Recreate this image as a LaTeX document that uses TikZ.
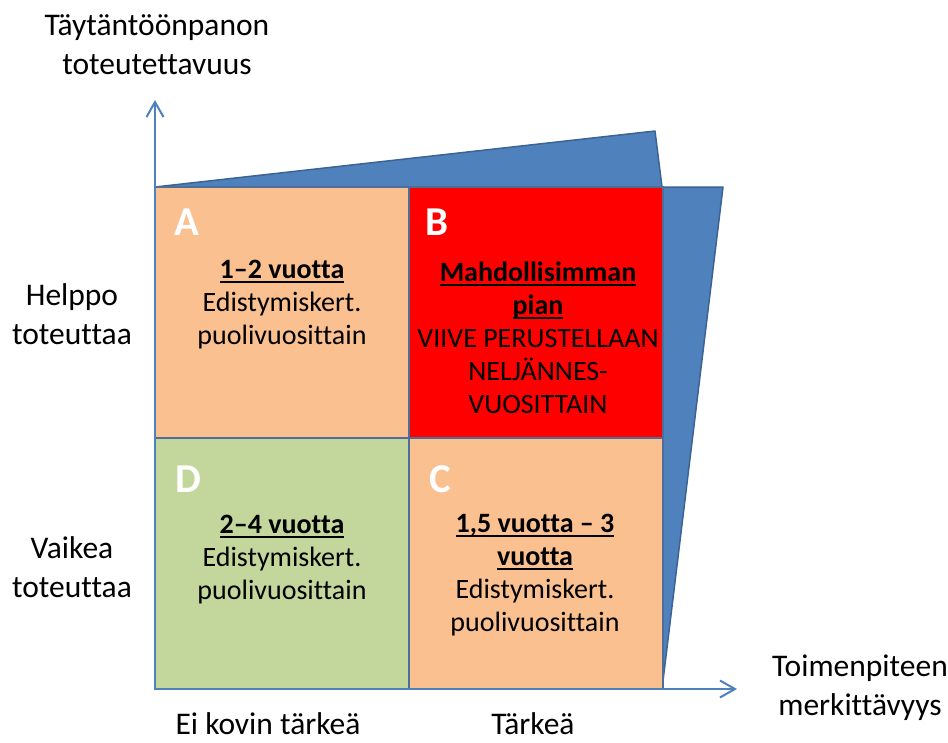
\documentclass[tikz,border=0pt]{standalone}
\usepackage{fontspec}
\setmainfont{Carlito}[RawFeature={-liga;-clig;-calt}]
\usetikzlibrary{arrows.meta,positioning}
\definecolor{peach}{HTML}{FAC090}
\definecolor{leaf}{HTML}{C3D69B}
\definecolor{steel}{HTML}{4F81BD}
\definecolor{steeldark}{HTML}{3B6494}
\definecolor{gridline}{HTML}{4D6D9A}
\newcommand{\ulbold}[1]{\sbox0{\bfseries #1}\rlap{\rule[-4.5pt]{\wd0}{2pt}}\usebox0}

\begin{document}
\begin{tikzpicture}[
    x=1pt, y=-1pt,
    cell/.style={rectangle, draw=gridline, line width=1.5pt, fill=#1, minimum width=254pt, minimum height=251pt, anchor=north west, inner sep=0pt, outer sep=0pt},
    letter/.style={font=\fontsize{41}{41}\selectfont\bfseries, text=white},
    body/.style={align=center, font=\fontsize{28}{33}\selectfont},
    axislabel/.style={align=center, font=\fontsize{31.5}{39}\selectfont},
    axis/.style={draw=steel, line width=2pt, -{Straight Barb[length=15pt,width=17pt,line width=2pt]}},
    >=Stealth
]
    \useasboundingbox (0,0) rectangle (948,742);

    % Perspective planes
    \coordinate (top) at (655,131);
    \coordinate (side) at (723,187);
    \filldraw[fill=steel, draw=steeldark, line width=1.5pt, line join=round] (155,187) -- (top) -- (662,187) -- cycle;
    \filldraw[fill=steel, draw=steeldark, line width=1.5pt, line join=round] (662,187) -- (side) -- (662,689) -- cycle;

    % Quadrants
    \node[cell=peach] (A) at (155,187) {};
    \node[cell=red] (B) at (409,187) {};
    \node[cell=leaf] (D) at (155,438) {};
    \node[cell=peach] (C) at (409,438) {};

    % Axes
    \coordinate (origin) at (155,689);
    \coordinate (ytip) at (155,100);
    \coordinate (xtip) at (737,689);
    \draw[axis] (origin) -- (ytip);
    \draw[axis] (origin) -- (xtip);

    % Quadrant letters
    \node[letter] (labA) at (187,222) {A};
    \node[letter] (labB) at (437,222) {B};
    \node[letter] (labD) at (188,479) {D};
    \node[letter] (labC) at (440,479) {C};

    % Quadrant texts
    \node[body] (txtA) at (282,305) {\ulbold{1–2 vuotta}\\Edistymiskert.\\puolivuosittain};
    \node[body] (txtB) at (538,338) {\ulbold{Mahdollisimman}\\\ulbold{pian}\\VIIVE PERUSTELLAAN\\NELJÄNNES-\\VUOSITTAIN};
    \node[body] (txtD) at (282,560) {\ulbold{2–4 vuotta}\\Edistymiskert.\\puolivuosittain};
    \node[body] (txtC) at (535,575) {\ulbold{1,5 vuotta – 3}\\\ulbold{vuotta}\\Edistymiskert.\\puolivuosittain};

    % Axis labels
    \node[axislabel] (ytitle) at (157,45) {Täytäntöönpanon\\toteutettavuus};
    \node[axislabel] (easy) at (72,314) {Helppo\\toteuttaa};
    \node[axislabel] (hard) at (72,567) {Vaikea\\toteuttaa};
    \node[axislabel] (xtitle) at (860,688) {Toimenpiteen\\merkittävyys};
    \node[axislabel] (minor) at (268,724) {Ei kovin tärkeä};
    \node[axislabel] (major) at (533,724) {Tärkeä};
\end{tikzpicture}
\end{document}
